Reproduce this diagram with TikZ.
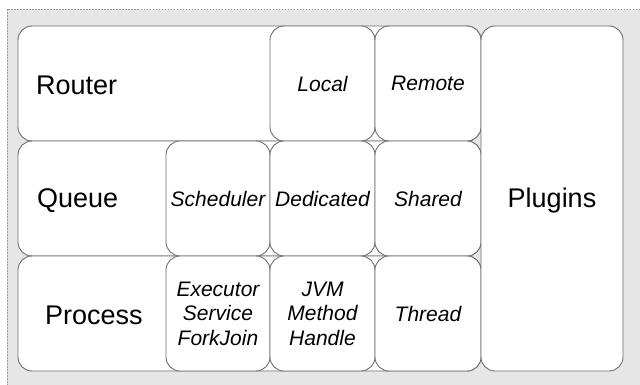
\documentclass[tikz,border=0pt]{standalone}
\usepackage{fontspec}
\setmainfont{Liberation Sans}
\definecolor{panelbg}{HTML}{E6E6E6}
\definecolor{edge}{HTML}{6E6E6E}
\definecolor{frameline}{HTML}{9A9A9A}
\tikzset{
  cell/.style={draw=edge, line width=0.9pt, fill=white, rounded corners=14pt,
    rectangle, inner sep=0pt, outer sep=0pt},
  bigtext/.style={inner sep=0pt, font=\fontsize{27}{30}\selectfont},
  smalltext/.style={inner sep=0pt, align=center,
    font=\fontsize{21}{24.5}\selectfont\itshape},
}
\begin{document}
\begin{tikzpicture}[x=1pt, y=-1pt]
  \useasboundingbox (0,0) rectangle (640,385);
  % panel background with dotted top and left edges
  \fill[panelbg] (7,9) rectangle (640,385);
  \draw[frameline, line width=0.8pt, dash pattern=on 1.5pt off 1.5pt] (640,9) -- (7,9) -- (7,385);

  % wide row boxes
  \node[cell, minimum width=463pt, minimum height=115pt,
        label={[bigtext, anchor=west, xshift=18pt, yshift=-2pt]west:Router}] (router) at (249.5,83.5) {};
  \node[cell, minimum width=463pt, minimum height=115pt,
        label={[bigtext, anchor=west, xshift=19pt, yshift=-2pt]west:Queue}] (queue) at (249.5,198.5) {};
  \node[cell, minimum width=463pt, minimum height=115pt,
        label={[bigtext, anchor=west, xshift=27pt, yshift=-2pt]west:Process}] (process) at (249.5,313.5) {};

  % router row
  \node[cell, smalltext, minimum width=105pt, minimum height=115pt] (local) at (322.5,83.5) {Local};
  \node[cell, smalltext, minimum width=106pt, minimum height=115pt] (remote) at (428,83.5) {Remote};

  % queue row
  \node[cell, smalltext, minimum width=104pt, minimum height=115pt] (scheduler) at (218,198.5) {Scheduler};
  \node[cell, smalltext, minimum width=105pt, minimum height=115pt] (dedicated) at (322.5,198.5) {Dedicated};
  \node[cell, smalltext, minimum width=106pt, minimum height=115pt] (shared) at (428,198.5) {Shared};

  % process row
  \node[cell, smalltext, minimum width=104pt, minimum height=115pt] (executor) at (218,313.5) {Executor\\Service\\ForkJoin};
  \node[cell, smalltext, minimum width=105pt, minimum height=115pt] (jvm) at (322.5,313.5) {JVM\\Method\\Handle};
  \node[cell, smalltext, minimum width=106pt, minimum height=115pt] (thread) at (428,313.5) {Thread};

  % plugins column
  \node[cell, minimum width=142pt, minimum height=345pt] (plugins) at (552,198.5) {};
  \node[bigtext, yshift=-2pt] (pluginsText) at (plugins.center) {Plugins};
\end{tikzpicture}
\end{document}
